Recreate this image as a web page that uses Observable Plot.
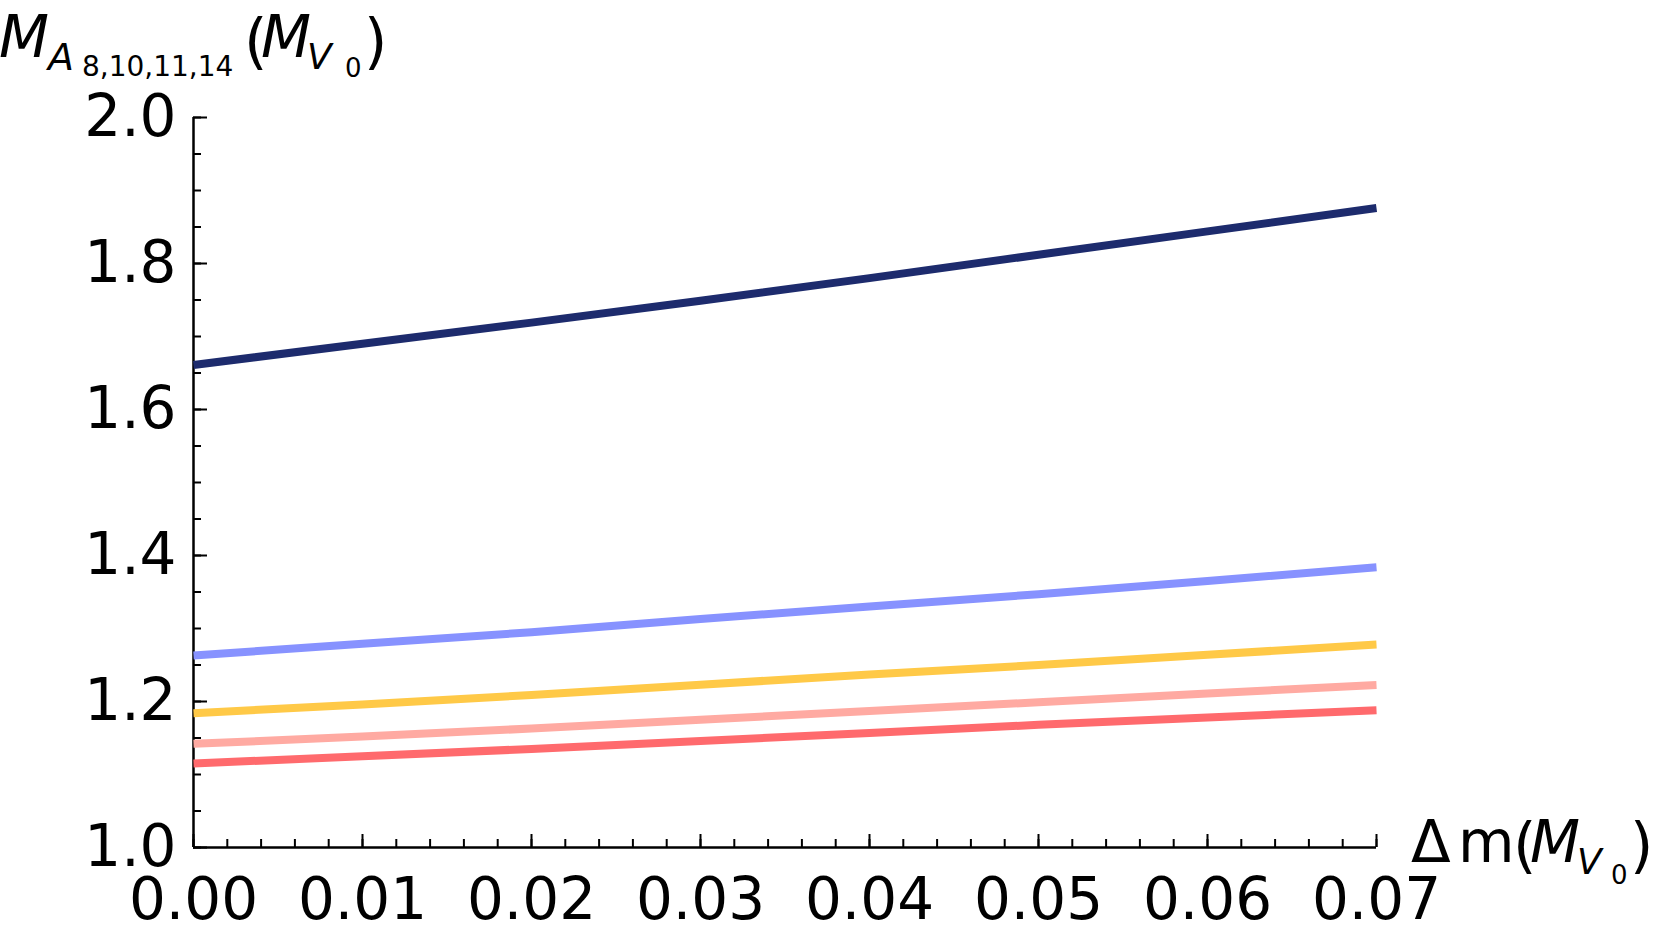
<!DOCTYPE html>
<html>
<head>
<meta charset="utf-8">
<script src="https://cdn.jsdelivr.net/npm/d3@7"></script>
<script src="https://cdn.jsdelivr.net/npm/@observablehq/plot@0.6"></script>
<style>
  html, body { margin: 0; padding: 0; background: #fff; }
  svg { display: block; }
</style>
</head>
<body>
<div id="chart"></div>
<script>
// ---- data ----
const dm = [0.00, 0.01, 0.02, 0.03, 0.04, 0.05, 0.06, 0.07];
const seriesNames = ["A8", "A10", "A11", "A14", "A0"];
const navyValues      = [1.661, 1.690, 1.719, 1.749, 1.780, 1.812, 1.844, 1.876];
const lightBlueValues = [1.263, 1.279, 1.295, 1.313, 1.330, 1.347, 1.365, 1.384];
const yellowValues    = [1.184, 1.196, 1.209, 1.223, 1.237, 1.250, 1.264, 1.278];
const pinkValues      = [1.142, 1.152, 1.163, 1.175, 1.187, 1.199, 1.211, 1.2225];
const redValues       = [1.115, 1.125, 1.135, 1.146, 1.157, 1.168, 1.178, 1.188];
const seriesColors = ["#1d2b6d", "#8792ff", "#ffc947", "#ffaaa2", "#ff6a6d"];

const xTicksMajor = [0.00, 0.01, 0.02, 0.03, 0.04, 0.05, 0.06, 0.07];
const yTicksMajor = [1.0, 1.2, 1.4, 1.6, 1.8, 2.0];
const xTicksMinor = d3.range(0, 0.0701, 0.002);
const yTicksMinor = d3.range(1.0, 2.001, 0.05);

const allValues = [navyValues, lightBlueValues, yellowValues, pinkValues, redValues];
const rows = allValues.flatMap((vals, s) =>
  vals.map((v, i) => ({ dm: dm[i], m: v, series: seriesNames[s] })));

// ---- chart ----
const W = 1661, H = 939;
const chart = Plot.plot({
  width: W,
  height: H,
  marginLeft: 193,
  marginRight: 285,
  marginTop: 117,
  marginBottom: 92,
  x: { domain: [0, 0.07] },
  y: { domain: [1, 2] },
  color: { type: "ordinal", domain: seriesNames, range: seriesColors },
  style: { fontFamily: "DejaVu Sans", fontSize: "58px", color: "black", background: "white", overflow: "visible" },
  marks: [
    // tick marks (inward)
    Plot.axisX({ ticks: xTicksMinor, tickSize: -8, strokeWidth: 2, tickFormat: () => "", label: null }),
    Plot.axisX({ ticks: xTicksMajor, tickSize: -13, strokeWidth: 2, tickFormat: () => "", label: null }),
    Plot.axisY({ ticks: yTicksMinor, tickSize: -8, strokeWidth: 2, tickFormat: () => "", label: null }),
    Plot.axisY({ ticks: yTicksMajor, tickSize: -14, strokeWidth: 2, tickFormat: () => "", label: null }),
    // tick labels
    Plot.axisX({ ticks: xTicksMajor, tickSize: 0, tickPadding: 30, tickFormat: d3.format(".2f"), label: null }),
    Plot.axisY({ ticks: yTicksMajor, tickSize: 0, tickPadding: 17, tickFormat: d3.format(".1f"), label: null }),
    // spines
    Plot.ruleX([0], { stroke: "black", strokeWidth: 2.5 }),
    Plot.ruleY([1], { stroke: "black", strokeWidth: 2.5 }),
    // curves
    Plot.line(rows, { x: "dm", y: "m", z: "series", stroke: "series", strokeWidth: 8, strokeLinecap: "butt", curve: "linear" })
  ]
});

// ---- axis titles as real text (with subscripts) ----
const yTitle = [
  { t: "M", x: -1, y: 57, size: 58, it: true },
  { t: "A", x: 48, y: 70, size: 38, it: true },
  { t: "8,10,11,14", x: 82, y: 76, size: 28, it: false },
  { t: "(", x: 244, y: 62, size: 60, it: false },
  { t: "M", x: 261, y: 57, size: 58, it: true },
  { t: "V", x: 307, y: 69, size: 36, it: true },
  { t: "0", x: 345, y: 77, size: 26, it: false },
  { t: ")", x: 364, y: 62, size: 60, it: false }
];
const xTitle = [
  { t: "Δ", x: 1411, y: 862, size: 58, it: false },
  { t: "m", x: 1458, y: 862, size: 58, it: false },
  { t: "(", x: 1513, y: 866, size: 60, it: false },
  { t: "M", x: 1530, y: 862, size: 58, it: true },
  { t: "V", x: 1577, y: 874, size: 36, it: true },
  { t: "0", x: 1611, y: 884, size: 26, it: false },
  { t: ")", x: 1630, y: 866, size: 60, it: false }
];
const svg = d3.select(chart);
const titles = svg.append("g").attr("text-anchor", "start");
for (const p of [...yTitle, ...xTitle]) {
  titles.append("text")
    .attr("x", p.x).attr("y", p.y)
    .attr("text-anchor", "start")
    .attr("font-family", "DejaVu Sans")
    .attr("font-size", p.size)
    .attr("font-style", p.it ? "italic" : "normal")
    .attr("fill", "black")
    .text(p.t);
}

document.getElementById("chart").appendChild(chart);
</script>
</body>
</html>
